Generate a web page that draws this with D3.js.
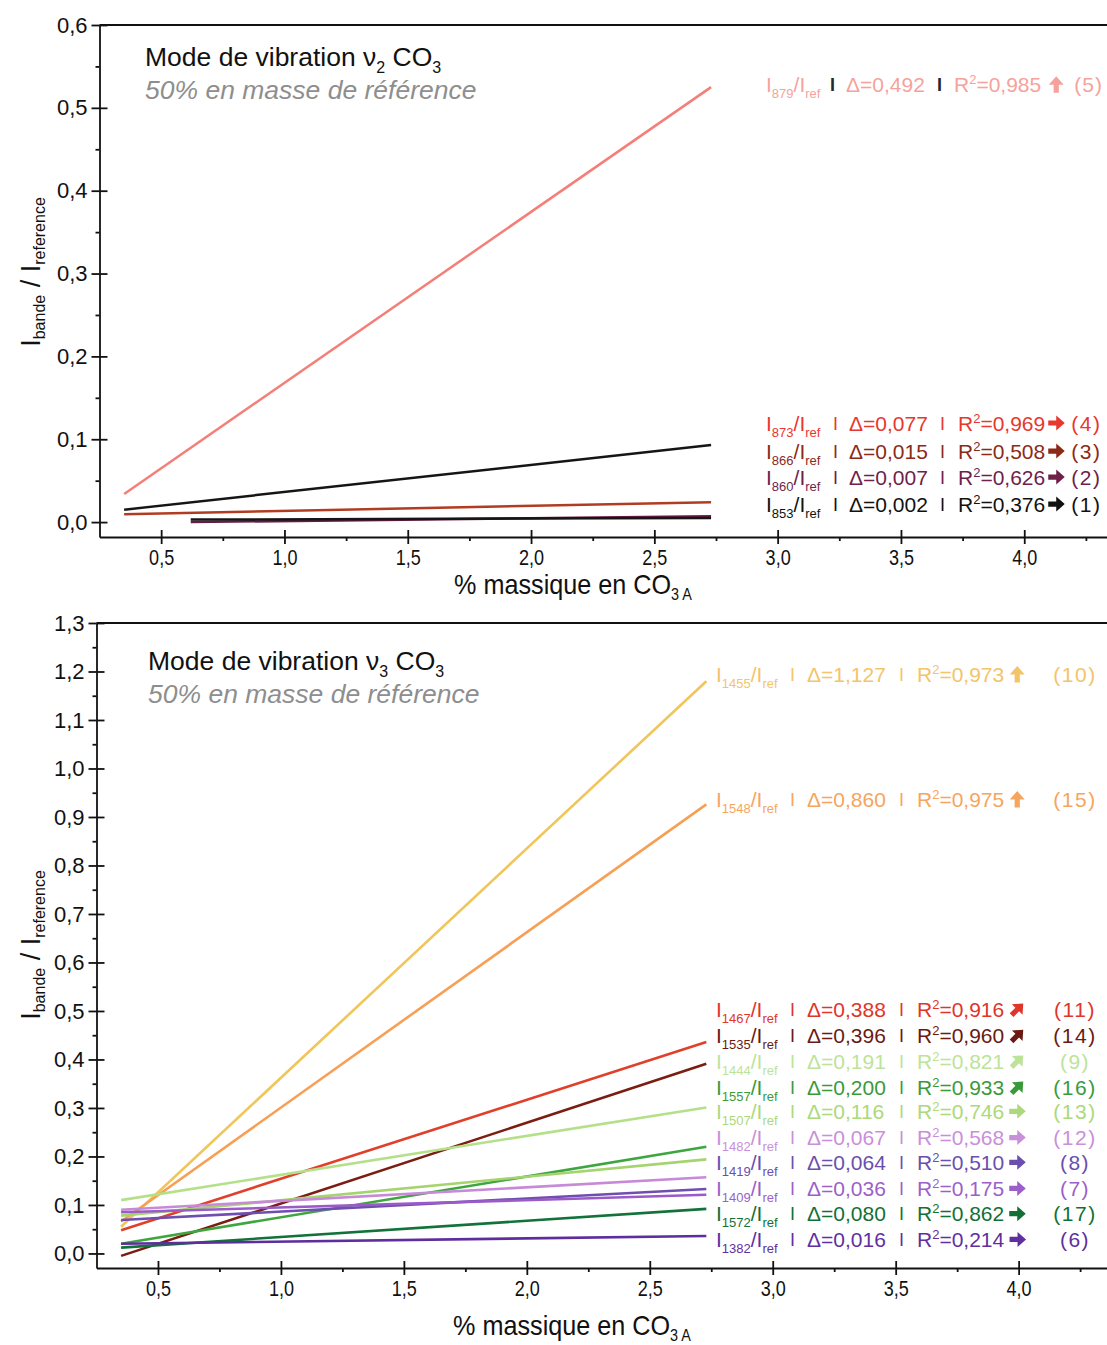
<!DOCTYPE html>
<html><head><meta charset="utf-8">
<script src="https://cdn.jsdelivr.net/npm/d3@7"></script>
<style>body{margin:0;background:#fff} svg{display:block}</style>
</head><body><svg id="c" width="1107" height="1345"></svg>
<script>
// ---------- data ----------
const xMajor = [0.5, 1.0, 1.5, 2.0, 2.5, 3.0, 3.5, 4.0];
const xMinor = [0.75, 1.25, 1.75, 2.25, 2.75, 3.25, 3.75, 4.25];
const topYMajor = [0.0, 0.1, 0.2, 0.3, 0.4, 0.5, 0.6];
const topYMinor = [0.05, 0.15, 0.25, 0.35, 0.45, 0.55];
const botYMajor = [0.0, 0.1, 0.2, 0.3, 0.4, 0.5, 0.6, 0.7, 0.8, 0.9, 1.0, 1.1, 1.2, 1.3];
const botYMinor = [0.05, 0.15, 0.25, 0.35, 0.45, 0.55, 0.65, 0.75, 0.85, 0.95, 1.05, 1.15, 1.25];

// top panel (nu2 CO3)
const topBands = ["879", "873", "866", "860", "853"];
const topX0 = [0.35, 0.35, 0.35, 0.62, 0.62];
const topX1 = [2.73, 2.73, 2.73, 2.73, 2.73];
const topY0 = [0.034, 0.015, 0.0095, 0.000, 0.003];
const topY1 = [0.525, 0.093, 0.024, 0.007, 0.005];
const topDelta = ["0,492", "0,077", "0,015", "0,007", "0,002"];
const topR2 = ["0,985", "0,969", "0,508", "0,626", "0,376"];
const topNum = ["(5)", "(4)", "(3)", "(2)", "(1)"];
const topTrend = ["up", "right", "right", "right", "right"];
const topLabelLevel = [0.528, 0.1196, 0.0857, 0.0543, 0.0217];

// bottom panel (nu3 CO3)
const botBands = ["1455", "1548", "1467", "1535", "1444", "1557", "1507", "1482", "1419", "1409", "1572", "1382"];
const botX0 = [0.35, 0.35, 0.35, 0.35, 0.35, 0.35, 0.35, 0.35, 0.35, 0.35, 0.35, 0.35];
const botX1 = [2.73, 2.73, 2.73, 2.73, 2.73, 2.73, 2.73, 2.73, 2.73, 2.73, 2.73, 2.73];
const botY0 = [0.055, 0.066, 0.048, -0.005, 0.110, 0.020, 0.078, 0.090, 0.069, 0.085, 0.012, 0.020];
const botY1 = [1.180, 0.926, 0.436, 0.391, 0.301, 0.220, 0.194, 0.157, 0.133, 0.121, 0.092, 0.036];
const botDelta = ["1,127", "0,860", "0,388", "0,396", "0,191", "0,200", "0,116", "0,067", "0,064", "0,036", "0,080", "0,016"];
const botR2 = ["0,973", "0,975", "0,916", "0,960", "0,821", "0,933", "0,746", "0,568", "0,510", "0,175", "0,862", "0,214"];
const botNum = ["(10)", "(15)", "(11)", "(14)", "(9)", "(16)", "(13)", "(12)", "(8)", "(7)", "(17)", "(6)"];
const botTrend = ["up", "up", "ne", "ne", "ne", "ne", "right", "right", "right", "right", "right", "right"];
const botLabelLevel = [1.194, 0.936, 0.503, 0.449, 0.396, 0.342, 0.293, 0.239, 0.188, 0.134, 0.082, 0.029];

// ---------- styles ----------
const topLineColors = ["#f47f78", "#151515", "#b23c22", "#6a1a44", "#151515"];
const topTextColors = ["#f6a29c", "#e8372c", "#8c2a18", "#6e1f4a", "#111111"];
const topSepColors  = ["#1f2a30", null, null, null, null];
const botLineColors = ["#f0c55a", "#f7a055", "#e0402a", "#7a1e12", "#b5e08a", "#3ea63e",
                       "#a5d46e", "#c68ad8", "#6e4eb0", "#9a5ac8", "#12723a", "#5e2e9e"];
const botTextColors = ["#f3c46a", "#f6a55e", "#e0352b", "#6a1a12", "#bde39a", "#3a9a3a",
                       "#acd97a", "#c98fda", "#6a4fae", "#9c5fca", "#137035", "#5f2f9f"];

const FONT = "'Liberation Sans', Arial, Helvetica, sans-serif";
const fmt = d => d3.format(".1f")(d).replace(".", ",");

const svg = d3.select("#c").attr("font-family", FONT);

function panel(cfg) {
  const g = svg.append("g");
  const x = d3.scaleLinear().domain([0.25, 4.5]).range(cfg.xRange);
  const y = d3.scaleLinear().domain(cfg.yDomain).range(cfg.yRange);
  const x0 = cfg.xRange[0], yb = cfg.yRange[0];

  // x axis: labels + outer major ticks
  const xa = g.append("g").attr("transform", `translate(0,${yb})`)
    .call(d3.axisBottom(x).tickValues(xMajor).tickSize(7).tickSizeOuter(0).tickPadding(5).tickFormat(fmt));
  xa.selectAll("text").attr("font-family", FONT).attr("font-size", 22).attr("fill", "#111")
    .attr("transform", "scale(0.82,1)");
  g.append("g").attr("transform", `translate(0,${yb})`)
    .call(d3.axisBottom(x).tickValues(xMajor).tickSize(-7).tickSizeOuter(0).tickFormat(""))
    .select(".domain").remove();
  g.append("g").attr("transform", `translate(0,${yb})`)
    .call(d3.axisBottom(x).tickValues(xMinor).tickSize(4).tickSizeOuter(0).tickFormat(""))
    .select(".domain").remove();

  // y axis
  const ya = g.append("g").attr("transform", `translate(${x0},0)`)
    .call(d3.axisLeft(y).tickValues(cfg.yMajor).tickSize(8).tickSizeOuter(0).tickPadding(4).tickFormat(fmt));
  ya.selectAll("text").attr("font-family", FONT).attr("font-size", 22).attr("fill", "#111");
  g.append("g").attr("transform", `translate(${x0},0)`)
    .call(d3.axisLeft(y).tickValues(cfg.yMajor).tickSize(-8).tickSizeOuter(0).tickFormat(""))
    .select(".domain").remove();
  g.append("g").attr("transform", `translate(${x0},0)`)
    .call(d3.axisLeft(y).tickValues(cfg.yMinor).tickSize(4).tickSizeOuter(0).tickFormat(""))
    .select(".domain").remove();

  g.selectAll(".domain, .tick line").attr("stroke", "#111").attr("stroke-width", 1.8);

  // top frame line
  g.append("line").attr("x1", x0).attr("x2", cfg.xRange[1]).attr("y1", y(cfg.yDomain[1])).attr("y2", y(cfg.yDomain[1]))
    .attr("stroke", "#111").attr("stroke-width", 1.8);

  // series lines
  cfg.bands.forEach((b, i) => {
    g.append("line")
      .attr("x1", x(cfg.x0s[i])).attr("y1", y(cfg.y0s[i]))
      .attr("x2", x(cfg.x1s[i])).attr("y2", y(cfg.y1s[i]))
      .attr("stroke", cfg.lineColors[i]).attr("stroke-width", cfg.lineWidth);
  });

  // annotations
  cfg.bands.forEach((b, i) => {
    const cy = y(cfg.levels[i]);
    const base = cy + 7.5;
    const col = cfg.textColors[i];
    const special = cfg.sepColors && cfg.sepColors[i];
    const sepCol = special || col;
    const t = g.append("text").attr("x", cfg.cols.label).attr("y", base).attr("fill", col).attr("font-size", 21);
    t.append("tspan").text("I");
    t.append("tspan").attr("font-size", 13).attr("dy", 6).text(b);
    t.append("tspan").attr("dy", -6).text("/I");
    t.append("tspan").attr("font-size", 13).attr("dy", 6).text("ref");
    g.append("text").attr("x", special ? cfg.cols.sep1 - 3 : cfg.cols.sep1).attr("y", base - 1).attr("fill", sepCol).attr("font-size", 18)
      .attr("font-weight", special ? "bold" : "normal").text("I");
    g.append("text").attr("x", special ? cfg.cols.delta - 3 : cfg.cols.delta).attr("y", base).attr("fill", col).attr("font-size", 21).text("\u0394=" + cfg.delta[i]);
    g.append("text").attr("x", special ? cfg.cols.sep2 - 3 : cfg.cols.sep2).attr("y", base - 1).attr("fill", sepCol).attr("font-size", 18)
      .attr("font-weight", special ? "bold" : "normal").text("I");
    const r = g.append("text").attr("x", special ? cfg.cols.r - 4 : cfg.cols.r).attr("y", base).attr("fill", col).attr("font-size", 21);
    r.append("tspan").text("R");
    r.append("tspan").attr("font-size", 13).attr("dy", -8).text("2");
    r.append("tspan").attr("dy", 8).text("=" + cfg.r2[i]);
    const bb = r.node().getBBox();
    const ax = bb.x + bb.width + cfg.arrowGap + (special ? 4 : 0);
    const ang = cfg.trend[i] === "up" ? -90 : (cfg.trend[i] === "ne" ? -45 : 0);
    g.append("path")
      .attr("d", "M-8,-2.6 L0,-2.6 L0,-7.5 L8.5,0 L0,7.5 L0,2.6 L-8,2.6 Z")
      .attr("transform", `translate(${ax},${cy}) rotate(${ang})`)
      .attr("fill", col);
    if (cfg.numAnchor === "start") {
      g.append("text").attr("x", ax + cfg.numGap + (special ? 3 : 0)).attr("y", base).attr("fill", col)
        .attr("font-size", 21).attr("letter-spacing", special ? 1 : 1.5).text(cfg.num[i]);
    } else {
      g.append("text").attr("x", cfg.numX).attr("y", base).attr("text-anchor", "middle").attr("fill", col)
        .attr("font-size", 21).attr("letter-spacing", 1.5).text(cfg.num[i]);
    }
  });

  // titles
  const tt = g.append("text").attr("x", cfg.titleX).attr("y", cfg.titleY).attr("font-size", 26.5).attr("fill", "#111");
  tt.append("tspan").text("Mode de vibration \u03bd");
  tt.append("tspan").attr("font-size", 16).attr("dy", 7).text(cfg.nu);
  tt.append("tspan").attr("dy", -7).text(" CO");
  tt.append("tspan").attr("font-size", 16).attr("dy", 7).text("3");
  g.append("text").attr("x", cfg.titleX).attr("y", cfg.titleY + 33).attr("font-size", 26.5)
    .attr("font-style", "italic").attr("fill", "#8e8e8e").text("50% en masse de r\u00e9f\u00e9rence");

  // x axis title
  const xt = g.append("text").attr("transform", `translate(${cfg.xTitleX},${cfg.xTitleY}) scale(0.9,1)`)
    .attr("text-anchor", "middle").attr("font-size", 28).attr("fill", "#111");
  xt.append("tspan").text("% massique en CO");
  xt.append("tspan").attr("font-size", 16).attr("dy", 6).text("3 A");

  // y axis title
  const yt2 = g.append("text").attr("transform", `translate(40,${cfg.yTitleY}) rotate(-90)`)
    .attr("text-anchor", "middle").attr("font-size", 27).attr("fill", "#111");
  yt2.append("tspan").text("I");
  yt2.append("tspan").attr("font-size", 16).attr("dy", 5).text("bande");
  yt2.append("tspan").attr("dy", -5).text(" / I");
  yt2.append("tspan").attr("font-size", 16).attr("dy", 5).text("reference");
}

panel({
  xRange: [99.5, 99.5 + 4.25 * 246.6], yDomain: [-0.018, 0.6], yRange: [537, 25],
  yMajor: topYMajor, yMinor: topYMinor,
  bands: topBands, x0s: topX0, x1s: topX1, y0s: topY0, y1s: topY1,
  delta: topDelta, r2: topR2, num: topNum, trend: topTrend, levels: topLabelLevel,
  lineColors: topLineColors, textColors: topTextColors, sepColors: topSepColors, lineWidth: 2.5,
  cols: { label: 766, sep1: 833, delta: 849, sep2: 940, r: 958 },
  arrowGap: 11, numAnchor: "start", numGap: 15,
  titleX: 145, titleY: 66, nu: "2",
  xTitleX: 573, xTitleY: 594, yTitleY: 272
});

panel({
  xRange: [96.5, 96.5 + 4.25 * 245.9], yDomain: [-0.03, 1.3], yRange: [1268, 623],
  yMajor: botYMajor, yMinor: botYMinor,
  bands: botBands, x0s: botX0, x1s: botX1, y0s: botY0, y1s: botY1,
  delta: botDelta, r2: botR2, num: botNum, trend: botTrend, levels: botLabelLevel,
  lineColors: botLineColors, textColors: botTextColors, sepColors: null, lineWidth: 2.6,
  cols: { label: 716, sep1: 790, delta: 807, sep2: 899, r: 917 },
  arrowGap: 13, numAnchor: "middle", numX: 1075,
  titleX: 148, titleY: 670, nu: "3",
  xTitleX: 572, xTitleY: 1335, yTitleY: 945
});
</script></body></html>
